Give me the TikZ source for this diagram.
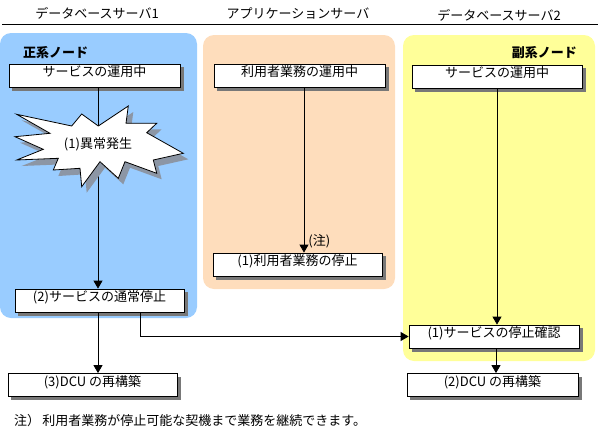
\documentclass[tikz,border=0pt]{standalone}
\usepackage{fontspec}
\setmainfont{Noto Sans CJK JP}
\usetikzlibrary{arrows.meta, positioning}

\definecolor{mainblue}{RGB}{153,204,255}
\definecolor{apppeach}{RGB}{254,221,188}
\definecolor{subyellow}{RGB}{255,255,153}
\definecolor{shadegray}{RGB}{120,120,120}
\definecolor{burstshade}{RGB}{140,150,165}

\pgfdeclarelayer{areas}
\pgfdeclarelayer{shades}
\pgfsetlayers{areas,shades,main}

% outline of the fault burst (pixel grid, y downwards)
\newcommand{\faultburst}{(16.7,114.3) -- (71.7,126) -- (81.7,114) -- (98.3,126) -- (128.3,106)
  -- (126,123.3) -- (156.7,123.3) -- (146.7,132.7) -- (183.3,153.3) -- (153.3,160)
  -- (156.7,173.3) -- (125,161.7) -- (118.3,178.3) -- (100,161.7) -- (81.7,186.7)
  -- (80,168.3) -- (53.3,170) -- (58.3,158.3) -- (16.7,160) -- (43.3,149.3)
  -- (15,136.7) -- (50,133.3) -- cycle}

\begin{document}
\begin{tikzpicture}[
    x=1pt, y=-1pt,
    >={Triangle[length=8pt,width=9pt]},
    font=\fontsize{13}{15}\selectfont,
    area/.style={fill=#1, draw=none, rounded corners=11pt, inner sep=0pt},
    procbox/.style={draw=black, line width=0.8pt, fill=white, minimum width=#1, minimum height=23pt,
        inner sep=0pt, text height=7.5pt, text depth=5pt},
    procbox/.default=170pt,
    boxshade/.style={fill=shadegray, draw=none},
    head/.style={inner sep=0pt},
    role/.style={inner sep=0pt, font=\fontsize{13}{15}\selectfont\bfseries},
    arr/.style={->, line width=0.8pt, black},
    link/.style={line width=0.8pt, black},
]
\useasboundingbox (0,0) rectangle (598,437);

% ── Column headers ──
\node[head] (hdb1) at (97,13) {データベースサーバ1};
\node[head] (hap) at (298,13) {アプリケーションサーバ};
\node[head] (hdb2) at (499,15) {データベースサーバ2};
\coordinate (ruleL) at (2,24);
\coordinate (ruleR) at (598,24);
\draw[link] (ruleL) -- (ruleR);

% ── Background areas ──
\begin{pgfonlayer}{areas}
\node[area=mainblue, minimum width=197pt, minimum height=285pt] (primary) at (98.5,175.5) {};
\node[area=apppeach, minimum width=192pt, minimum height=254pt] (appzone) at (299,162) {};
\node[area=subyellow, minimum width=192pt, minimum height=326pt] (secondary) at (499,198) {};
\end{pgfonlayer}

\node[role, anchor=west] (prilabel) at (23,53) {正系ノード};
\node[role, anchor=east] (seclabel) at (577,53) {副系ノード};

% ── Database server 1 ──
\node[procbox=171pt] (svcrun1) at (94.5,75.5) {サービスの運用中};
\node[procbox=169pt] (svcstop) at (99.5,300.5) {(2)サービスの通常停止};
\node[procbox=169pt] (rebuild1) at (92.5,385) {(3)DCU の再構築};
\coordinate (trunk1) at (98,0);

\draw[arr] (svcrun1.south -| trunk1) -- (svcstop.north -| trunk1);
\fill[burstshade, shift={(5,6)}] \faultburst;
\draw[line width=0.8pt, fill=white] \faultburst;
\node (fault) at (98,144) {(1)異常発生};
\draw[arr] (svcstop.south -| trunk1) -- (rebuild1.north -| trunk1);

% ── Application server ──
\node[procbox=171pt] (usrrun) at (299.5,75.5) {利用者業務の運用中};
\node[procbox=169pt] (usrstop) at (297.5,264.5) {(1)利用者業務の停止};
\coordinate (trunk2) at (304,0);
\draw[arr] (usrrun.south -| trunk2) -- (usrstop.north -| trunk2)
    node[pos=0.93, right=4pt, inner sep=0pt] (noteref) {(注)};

% ── Database server 2 ──
\node[procbox=170pt] (svcrun2) at (497,76.5) {サービスの運用中};
\node[procbox=170pt] (confirm) at (494,336.5) {(1)サービスの停止確認};
\node[procbox=171pt] (rebuild2) at (492.5,385) {(2)DCU の再構築};
\coordinate (trunk3) at (497,0);
\coordinate (trunk4) at (496,0);
\draw[arr] (svcrun2.south -| trunk3) -- (confirm.north -| trunk3);
\draw[arr] (confirm.south -| trunk4) -- (rebuild2.north -| trunk4);

% ── Cross-node notification ──
\draw[arr] ([xshift=41pt]svcstop.south) |- (confirm.west);

% ── Box shadows ──
\begin{pgfonlayer}{shades}
\foreach \b in {svcrun1, svcstop, rebuild1, usrrun, usrstop, svcrun2, confirm, rebuild2}
    \fill[boxshade] ([shift={(3.5,3.5)}]\b.south west) rectangle ([shift={(3.5,3.5)}]\b.north east);
\end{pgfonlayer}

% ── Footnote ──
\node[anchor=west, inner sep=0pt] (footnote) at (14,421) {注）\,利用者業務が停止可能な契機まで業務を継続できます。};

\end{tikzpicture}
\end{document}
